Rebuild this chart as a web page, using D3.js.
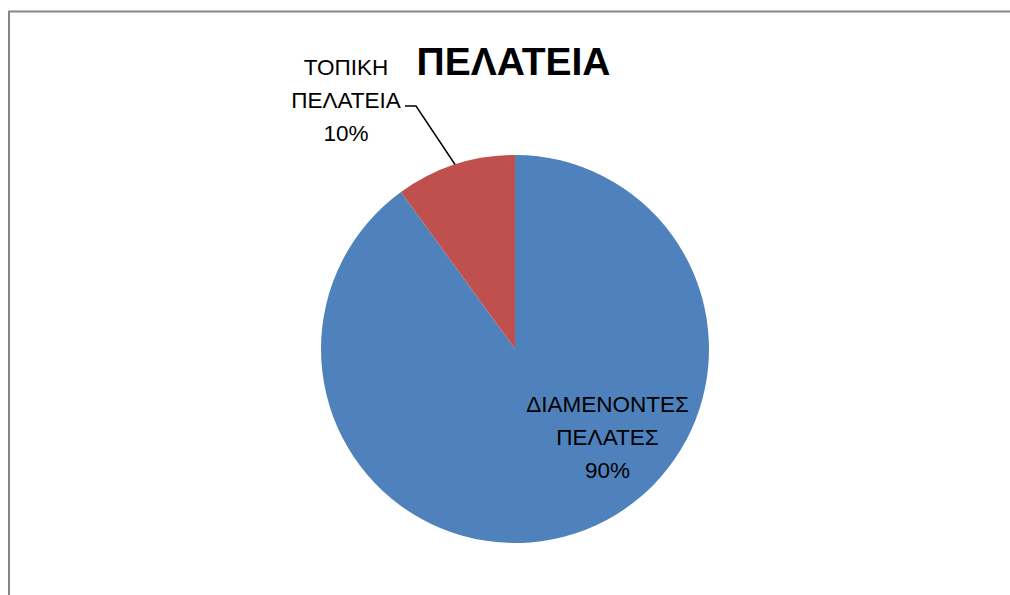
<!DOCTYPE html>
<html>
<head>
<meta charset="utf-8">
<script src="https://cdn.jsdelivr.net/npm/d3@7"></script>
<style>
  html, body { margin: 0; padding: 0; background: #fff; }
  svg { display: block; }
</style>
</head>
<body>
<svg id="chart" width="1010" height="595"></svg>
<script>
const title = "ΠΕΛΑΤΕΙΑ";
const categories = [["ΔΙΑΜΕΝΟΝΤΕΣ", "ΠΕΛΑΤΕΣ"], ["ΤΟΠΙΚΗ", "ΠΕΛΑΤΕΙΑ"]];
const values = [90, 10];
const colors = ["#4F81BD", "#C0504D"];

const svg = d3.select("#chart");
const W = 1010, H = 595;
svg.append("rect").attr("width", W).attr("height", H).attr("fill", "#fff");

// chart border
svg.append("rect")
  .attr("x", 9).attr("y", 11.5).attr("width", 1020).attr("height", 620)
  .attr("fill", "none").attr("stroke", "#868686").attr("stroke-width", 2);

// title
svg.append("text")
  .attr("x", 513.5).attr("y", 75)
  .attr("text-anchor", "middle")
  .attr("font-family", "Liberation Sans, Arial, sans-serif")
  .attr("font-weight", "bold").attr("font-size", 39)
  .attr("fill", "#000")
  .text(title);

const cx = 515, cy = 349, R = 194;
const pie = d3.pie().sort(null).value(d => d);
const arcs = pie(values);
const arc = d3.arc().innerRadius(0).outerRadius(R);

const g = svg.append("g").attr("transform", `translate(${cx},${cy})`);
g.selectAll("path").data(arcs).enter().append("path")
  .attr("d", arc)
  .attr("fill", (d, i) => colors[i]);

const total = d3.sum(values);
const pct = v => Math.round(v / total * 100) + "%";

// label positions (layout)
const labelPos = [{x: 607.5, y: 412}, {x: 346, y: 75}];
const lineH = 33;
arcs.forEach((a, i) => {
  const lines = categories[i].concat([pct(a.value)]);
  const t = svg.append("text")
    .attr("text-anchor", "middle")
    .attr("font-family", "Liberation Sans, Arial, sans-serif")
    .attr("font-size", 22.5)
    .attr("fill", "#000");
  lines.forEach((ln, k) => {
    t.append("tspan").attr("x", labelPos[i].x).attr("y", labelPos[i].y + k * lineH).text(ln);
  });
});

// leader line for small slice
const a1 = arcs[1];
const mid = (a1.startAngle + a1.endAngle) / 2;
const ex = cx + R * Math.sin(mid), ey = cy - R * Math.cos(mid);
svg.append("path")
  .attr("d", `M405,106 L416,106 L${ex},${ey}`)
  .attr("fill", "none").attr("stroke", "#000").attr("stroke-width", 1.5);
</script>
</body>
</html>
